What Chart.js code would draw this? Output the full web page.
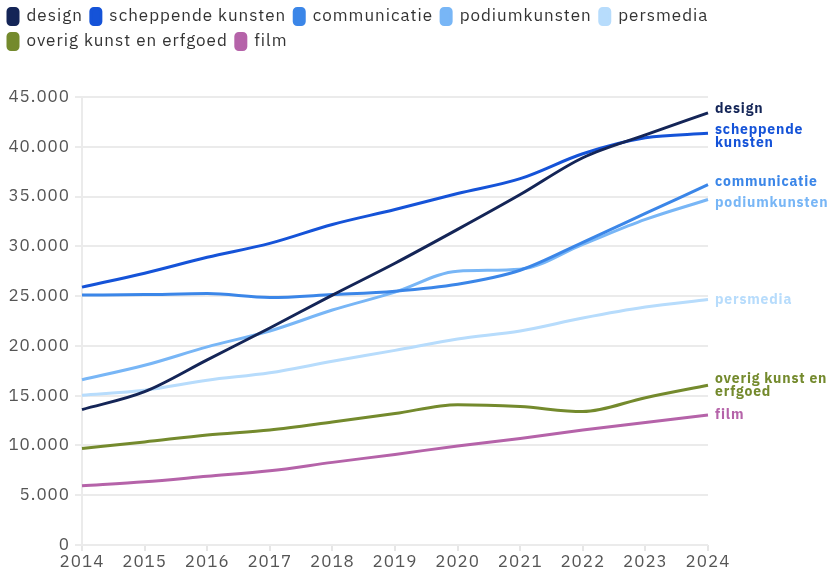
<!DOCTYPE html>
<html>
<head>
<meta charset="utf-8">
<script src="https://cdn.jsdelivr.net/npm/chart.js@4"></script>
<style>
  html, body { margin: 0; padding: 0; background: #fff; }
  #wrap { width: 829px; height: 570px; }
</style>
</head>
<body>
<div id="wrap"><canvas id="kunstChart" width="829" height="570"></canvas></div>
<script>
const years = ['2014', '2015', '2016', '2017', '2018', '2019', '2020', '2021', '2022', '2023', '2024'];

const design = [13600, 15400, 18600, 21800, 25100, 28300, 31700, 35200, 38900, 41200, 43400];
const scheppendeKunsten = [25900, 27300, 28900, 30300, 32200, 33700, 35300, 36800, 39300, 40900, 41350];
const communicatie = [25100, 25150, 25250, 24850, 25150, 25500, 26200, 27600, 30400, 33300, 36200];
const podiumkunsten = [16600, 18050, 19900, 21500, 23600, 25400, 27500, 27700, 30200, 32700, 34700];
const persmedia = [15050, 15550, 16550, 17300, 18450, 19550, 20700, 21500, 22800, 23900, 24650];
const overigKunst = [9700, 10350, 11050, 11550, 12350, 13200, 14100, 13900, 13400, 14800, 16050];
const film = [5950, 6350, 6900, 7450, 8300, 9100, 9950, 10700, 11550, 12300, 13050];

const yTicks = [0, 5000, 10000, 15000, 20000, 25000, 30000, 35000, 40000, 45000];

const FONT = '"IBM Plex Sans", "Noto Sans", sans-serif';

const series = [
  { label: 'design', data: design, color: '#142557' },
  { label: 'scheppende kunsten', data: scheppendeKunsten, color: '#1553d8' },
  { label: 'communicatie', data: communicatie, color: '#3b86e8' },
  { label: 'podiumkunsten', data: podiumkunsten, color: '#78b6f6' },
  { label: 'persmedia', data: persmedia, color: '#b7dcfc' },
  { label: 'overig kunst en erfgoed', data: overigKunst, color: '#748a2d' },
  { label: 'film', data: film, color: '#b563a9' },
];

// the original text is set a bit wider than our fonts
const spacing = {
  id: 'spacing',
  beforeLayout(chart) { chart.ctx.letterSpacing = '1px'; },
  beforeDraw(chart) { chart.ctx.letterSpacing = '1px'; },
};

// room between the legend and the plot
const legendGap = {
  id: 'legendGap',
  beforeInit(chart) {
    const fit = chart.legend.fit;
    chart.legend.fit = function () {
      fit.call(this);
      this.height = 97;
    };
  },
};

// end-of-line labels, wrapped and nudged apart so they don't overlap
const endLabels = {
  id: 'endLabels',
  afterDatasetsDraw(chart) {
    const { ctx, chartArea } = chart;
    const lineH = 13, gap = 8, maxW = 118;
    ctx.save();
    ctx.letterSpacing = '0.8px';
    ctx.font = 'bold 14px ' + FONT;
    const items = chart.data.datasets.map((ds, i) => {
      const pts = chart.getDatasetMeta(i).data;
      const last = pts[pts.length - 1];
      const words = ds.label.split(' ');
      const lines = [];
      let cur = '';
      words.forEach(w => {
        const t = cur ? cur + ' ' + w : w;
        if (cur && ctx.measureText(t).width > maxW) { lines.push(cur); cur = w; }
        else cur = t;
      });
      lines.push(cur);
      return { lines, color: ds.borderColor, y: last.y, h: lines.length * lineH };
    }).sort((a, b) => a.y - b.y);

    for (let k = 0; k < 60; k++) {
      for (let i = 1; i < items.length; i++) {
        const a = items[i - 1], b = items[i];
        const overlap = (a.y + a.h / 2 + gap) - (b.y - b.h / 2);
        if (overlap > 0) { a.y -= overlap / 2; b.y += overlap / 2; }
      }
    }

    ctx.textBaseline = 'middle';
    ctx.textAlign = 'left';
    items.forEach(it => {
      ctx.fillStyle = it.color;
      const top = it.y - it.h / 2 + lineH / 2;
      it.lines.forEach((l, j) => ctx.fillText(l, chartArea.right + 7, top + j * lineH));
    });
    ctx.restore();
  }
};

const ctx = document.getElementById('kunstChart').getContext('2d');
const chart = new Chart(ctx, {
  type: 'line',
  data: {
    labels: years,
    datasets: series.map(s => ({
      label: s.label,
      data: s.data,
      borderColor: s.color,
      backgroundColor: s.color,
      borderWidth: 3,
      pointRadius: 0,
      cubicInterpolationMode: 'monotone',
      fill: false,
    })),
  },
  options: {
    responsive: false,
    animation: false,
    layout: { padding: 0 },
    scales: {
      x: {
        offset: false,
        afterFit: axis => { axis.height = 25; },
        grid: { drawOnChartArea: false, color: '#e6e6e6', lineWidth: 2, tickLength: 6 },
        border: { display: false },
        ticks: { color: '#555', font: { family: FONT, size: 17 }, padding: 1, maxRotation: 0 },
      },
      y: {
        min: 0,
        max: 45000,
        afterBuildTicks: axis => { axis.ticks = yTicks.map(v => ({ value: v })); },
        afterFit: axis => { axis.width = 82; },
        grid: { color: '#ebebeb', lineWidth: 2, tickLength: 7 },
        border: { color: '#ebebeb', width: 2 },
        ticks: {
          color: '#555',
          font: { family: FONT, size: 17 },
          padding: 5,
          callback: v => v.toLocaleString('nl-NL'),
        },
      },
      // empty strip on the right that holds the end labels
      labelSpace: {
        position: 'right',
        afterFit: axis => { axis.width = 121; },
        grid: { display: false },
        border: { display: false },
        ticks: { display: false },
      },
    },
    plugins: {
      legend: {
        position: 'top',
        align: 'start',
        labels: {
          color: '#333',
          font: { family: FONT, size: 17 },
          boxWidth: 10,
          boxHeight: 16,
          useBorderRadius: true,
          borderRadius: 3,
          padding: 8,
        },
      },
      tooltip: { enabled: false },
    },
  },
  plugins: [spacing, legendGap, endLabels],
});
</script>
</body>
</html>
